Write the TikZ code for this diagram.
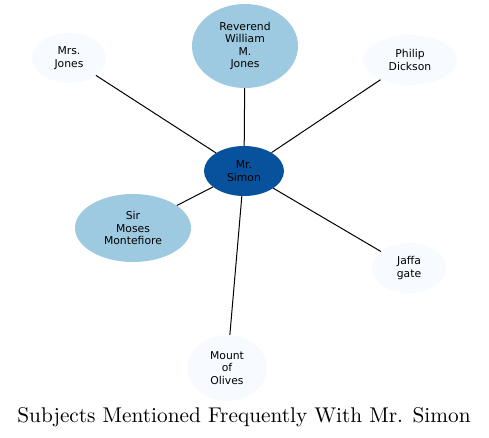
\documentclass[tikz,border=0pt]{standalone}
\usepackage{fontspec}
\newfontfamily\nodefont{DejaVu Sans}
\usetikzlibrary{shapes.geometric}
\definecolor{pale}{HTML}{F7FBFF}
\definecolor{mid}{HTML}{9ECAE1}
\definecolor{dark}{HTML}{08519C}
\tikzset{
  ent/.style={ellipse, inner sep=0pt, align=center, font=\nodefont\fontsize{10.8}{12.3}\selectfont, text=black},
  palenode/.style={ent, fill=pale},
  midnode/.style={ent, fill=mid},
  darknode/.style={ent, fill=dark},
  link/.style={draw=black, line width=1pt}
}
\begin{document}
\begin{tikzpicture}[x=1pt,y=-1pt]
\useasboundingbox (0,0) rectangle (489,437);
\node[darknode, minimum width=80pt, minimum height=50pt] (simon) at (244,171) {Mr.\\Simon};
\node[midnode, minimum width=106pt, minimum height=84pt] (rev) at (245,46) {Reverend\\William\\M.\\Jones};
\node[palenode, minimum width=74pt, minimum height=50pt] (mrs) at (69,58) {Mrs.\\Jones};
\node[palenode, minimum width=94pt, minimum height=50pt] (phil) at (410,60) {Philip\\Dickson};
\node[midnode, minimum width=116pt, minimum height=68pt] (moses) at (133,228) {Sir\\Moses\\Montefiore};
\node[palenode, minimum width=74pt, minimum height=50pt] (jaffa) at (409,268) {Jaffa\\gate};
\node[palenode, minimum width=80pt, minimum height=66pt] (olives) at (227,368) {Mount\\of\\Olives};
\draw[link] (simon) -- (rev);
\draw[link] (simon) -- (mrs);
\draw[link] (simon) -- (phil);
\draw[link] (simon) -- (moses);
\draw[link] (simon) -- (jaffa);
\draw[link] (simon) -- (olives);
\node[font=\fontsize{10}{12}\selectfont, anchor=base, inner sep=0pt, scale=2.13] (title) at (244,422) {Subjects Mentioned Frequently With Mr. Simon};
\end{tikzpicture}
\end{document}
